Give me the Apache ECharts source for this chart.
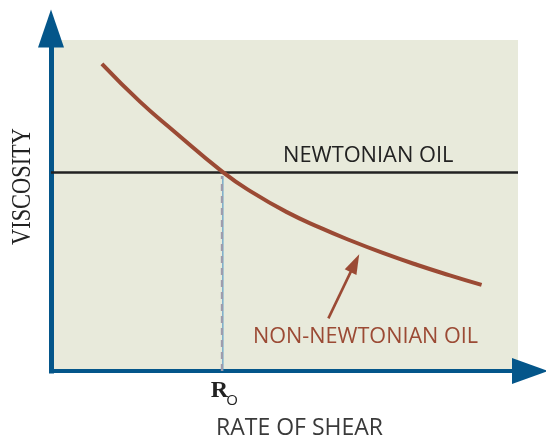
<!DOCTYPE html>
<html>
<head>
<meta charset="utf-8">
<script src="https://cdn.jsdelivr.net/npm/echarts@6/dist/echarts.min.js"></script>
<style>
  html, body { margin: 0; padding: 0; background: #ffffff; }
  #chart { width: 546px; height: 436px; }
</style>
</head>
<body>
<div id="chart"></div>
<script>
// Viscosity against rate of shear (arbitrary units, 0-100 on both axes)
const shearRate = [10.9, 19.1, 26.2, 36.8, 43.3, 50.5, 57.6, 64.0, 71.2, 78.3, 85.4, 92.2];
const nonNewtonianViscosity = [92.8, 81.3, 72.6, 60.1, 53.8, 48.0, 43.3, 39.5, 35.6, 32.1, 28.9, 26.0];
const newtonianViscosity = 60;
const newtonianRange = [0, 100];
const criticalShear = 36.8;          // R_O, where both oils share one viscosity
const criticalTop = 58.9;            // dashed guide stops just under the Newtonian line
const pointerFrom = [59.4, 15.9];    // annotation arrow tail
const pointerTo = [66.0, 35.3];      // annotation arrow head

const BLUE = '#04568a';
const BROWN = '#9b4a34';
const INK = '#222222';

const chart = echarts.init(document.getElementById('chart'), null, { renderer: 'canvas' });

const axisLine = (arrowSize, offset, width) => ({
  show: true,
  symbol: ['none', 'triangle'],
  symbolSize: arrowSize,
  symbolOffset: [0, offset],
  lineStyle: { color: BLUE, width: width, cap: 'square' }
});

chart.setOption({
  animation: false,
  backgroundColor: '#ffffff',
  grid: {
    left: 51, right: 28, top: 40, bottom: 65,
    show: true, backgroundColor: '#e8eadb', borderWidth: 0
  },
  xAxis: {
    type: 'value', min: 0, max: 100,
    axisLine: axisLine([26, 36], 12, 4),
    axisTick: { show: false },
    splitLine: { show: false },
    axisLabel: {
      show: true,
      customValues: [criticalShear],
      margin: 8,
      formatter: () => '{r|R}{o|O}',
      rich: {
        r: { fontFamily: 'Liberation Serif', fontWeight: 'bold', fontSize: 24, color: INK, verticalAlign: 'bottom', padding: [0, 0, 0, 3] },
        o: { fontFamily: 'Open Sans', fontSize: 15, color: INK, verticalAlign: 'bottom', padding: [0, 0, -5, -2] }
      }
    }
  },
  yAxis: {
    type: 'value', min: 0, max: 100,
    axisLine: axisLine([26, 38], 11.5, 5),
    axisTick: { show: false },
    splitLine: { show: false },
    axisLabel: { show: false }
  },
  graphic: [
    {
      type: 'text', x: 22.5, y: 186.5, rotation: Math.PI / 2, scaleY: 1.2,
      style: { text: 'VISCOSITY', fontFamily: 'Liberation Serif', fontSize: 22.4, fill: INK, align: 'center', verticalAlign: 'middle' }
    },
    {
      type: 'text', x: 299.5, y: 428,
      style: { text: 'RATE OF SHEAR', fontFamily: 'Open Sans', fontSize: 23, fill: '#3a3a3a', align: 'center', verticalAlign: 'middle' }
    },
    {
      type: 'text', x: 283, y: 156,
      style: { text: 'NEWTONIAN OIL', fontFamily: 'Open Sans', fontSize: 21.8, fill: INK, align: 'left', verticalAlign: 'middle' }
    },
    {
      type: 'text', x: 253, y: 337,
      style: { text: 'NON-NEWTONIAN OIL', fontFamily: 'Open Sans', fontSize: 21.6, fill: BROWN, align: 'left', verticalAlign: 'middle' }
    }
  ],
  series: [
    {
      name: 'guide',
      type: 'line', silent: true, symbol: 'none', z: 2,
      data: [[criticalShear, 0], [criticalShear, criticalTop]],
      lineStyle: { color: '#5f9ec6', width: 1.2 }
    },
    {
      name: 'guide-dash',
      type: 'line', silent: true, symbol: 'none', z: 3,
      data: [[criticalShear - 0.2, 0], [criticalShear - 0.2, criticalTop]],
      lineStyle: { color: '#9d9cad', width: 2.2, type: [7, 5] }
    },
    {
      name: 'Newtonian oil',
      type: 'line', silent: true, symbol: 'none', z: 4,
      data: newtonianRange.map(x => [x, newtonianViscosity]),
      lineStyle: { color: INK, width: 2.5 }
    },
    {
      name: 'Non-Newtonian oil',
      type: 'line', silent: true, symbol: 'none', smooth: 0.5, z: 5,
      data: shearRate.map((x, i) => [x, nonNewtonianViscosity[i]]),
      lineStyle: { color: BROWN, width: 4, cap: 'butt' }
    },
    {
      name: 'pointer',
      type: 'custom', silent: true, z: 6,
      data: [[pointerFrom[0], pointerFrom[1], pointerTo[0], pointerTo[1]]],
      renderItem: (params, api) => {
        const a = api.coord([api.value(0), api.value(1)]);
        const b = api.coord([api.value(2), api.value(3)]);
        const dx = b[0] - a[0], dy = b[1] - a[1];
        const len = Math.sqrt(dx * dx + dy * dy);
        const ux = dx / len, uy = dy / len;
        const headLen = 20, headHalf = 6.5;
        const bx = b[0] - ux * headLen, by = b[1] - uy * headLen;
        const nx = -uy, ny = ux;
        return {
          type: 'group',
          children: [
            { type: 'line', shape: { x1: a[0], y1: a[1], x2: bx + ux * 2, y2: by + uy * 2 }, style: { stroke: BROWN, lineWidth: 2.6 } },
            { type: 'polygon', shape: { points: [[b[0], b[1]], [bx + nx * headHalf, by + ny * headHalf], [bx - nx * headHalf, by - ny * headHalf]] }, style: { fill: BROWN } }
          ]
        };
      }
    }
  ]
});
</script>
</body>
</html>
